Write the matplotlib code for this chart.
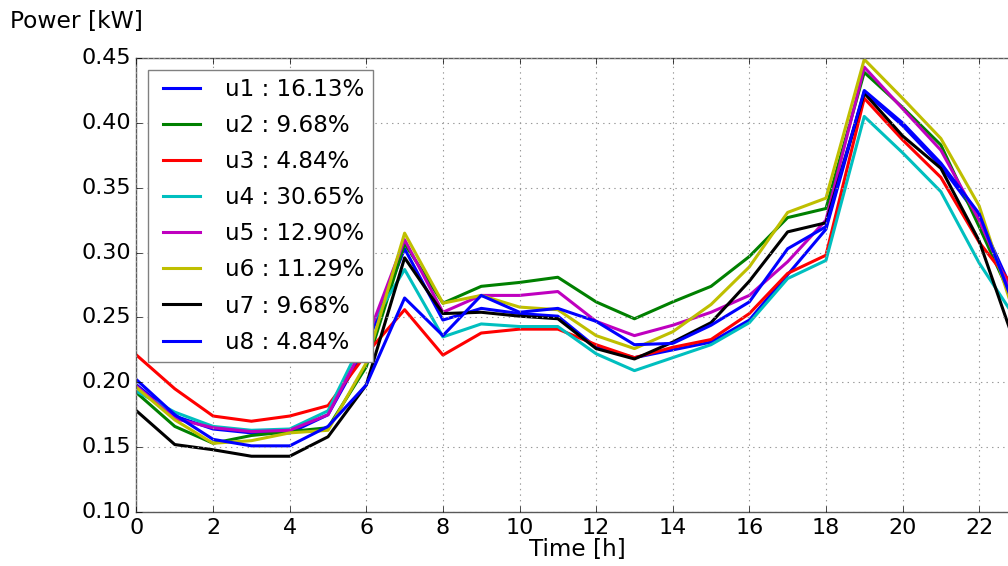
import numpy as np
import matplotlib
matplotlib.use('Agg')
import matplotlib.pyplot as plt

plt.style.use('classic')

# hourly mean power per cluster
hours = np.arange(24)
u1 = [0.198, 0.174, 0.164, 0.161, 0.161, 0.175, 0.228, 0.303, 0.248, 0.257, 0.253, 0.251,
      0.227, 0.219, 0.225, 0.231, 0.248, 0.283, 0.318, 0.424, 0.398, 0.367, 0.327, 0.262]
u2 = [0.192, 0.166, 0.153, 0.159, 0.162, 0.165, 0.212, 0.307, 0.261, 0.274, 0.277, 0.281,
      0.262, 0.249, 0.262, 0.274, 0.297, 0.327, 0.334, 0.439, 0.412, 0.383, 0.320, 0.255]
u3 = [0.221, 0.195, 0.174, 0.170, 0.174, 0.182, 0.222, 0.256, 0.221, 0.238, 0.241, 0.241,
      0.229, 0.219, 0.227, 0.233, 0.253, 0.284, 0.298, 0.419, 0.387, 0.358, 0.308, 0.270]
u4 = [0.193, 0.177, 0.166, 0.163, 0.164, 0.178, 0.238, 0.287, 0.235, 0.245, 0.243, 0.243,
      0.222, 0.209, 0.219, 0.229, 0.246, 0.280, 0.294, 0.405, 0.377, 0.347, 0.292, 0.247]
u5 = [0.197, 0.172, 0.165, 0.162, 0.163, 0.175, 0.232, 0.310, 0.254, 0.267, 0.267, 0.270,
      0.247, 0.236, 0.244, 0.254, 0.267, 0.293, 0.325, 0.443, 0.411, 0.379, 0.325, 0.258]
u6 = [0.196, 0.171, 0.153, 0.155, 0.161, 0.163, 0.215, 0.315, 0.261, 0.267, 0.258, 0.256,
      0.236, 0.226, 0.239, 0.260, 0.289, 0.331, 0.342, 0.449, 0.419, 0.388, 0.336, 0.245]
u7 = [0.178, 0.152, 0.148, 0.143, 0.143, 0.158, 0.198, 0.296, 0.253, 0.254, 0.251, 0.249,
      0.226, 0.218, 0.231, 0.246, 0.278, 0.316, 0.323, 0.423, 0.390, 0.365, 0.309, 0.224]
u8 = [0.202, 0.175, 0.156, 0.151, 0.151, 0.166, 0.198, 0.265, 0.236, 0.267, 0.254, 0.257,
      0.247, 0.229, 0.230, 0.244, 0.262, 0.303, 0.320, 0.425, 0.400, 0.369, 0.330, 0.252]

series = [u1, u2, u3, u4, u5, u6, u7, u8]
labels = ['u1 : 16.13%', 'u2 : 9.68%', 'u3 : 4.84%', 'u4 : 30.65%',
          'u5 : 12.90%', 'u6 : 11.29%', 'u7 : 9.68%', 'u8 : 4.84%']

fig = plt.figure(figsize=(10.08, 5.66), dpi=100, facecolor='white')
ax = fig.add_axes([0.1354, 0.0954, 0.874, 0.802])

for s, lab in zip(series, labels):
    ax.plot(hours, s, linewidth=2.2, label=lab)

ax.set_xlim(0, 23)
ax.set_ylim(0.10, 0.45)
ax.set_xticks(np.arange(0, 24, 2))
ax.set_yticks(np.arange(0.10, 0.451, 0.05))
ax.set_yticklabels(['%.2f' % v for v in np.arange(0.10, 0.451, 0.05)])
ax.tick_params(labelsize=16)
ax.grid(True, color='0.6', linestyle=':', linewidth=0.8)
for sp in ax.spines.values():
    sp.set_color('0.35')

fig.text(0.5724, 0.030, 'Time [h]', fontsize=16.7, ha='center', va='center')
fig.text(0.01, 0.962, 'Power [kW]', fontsize=16.8, ha='left', va='center')

leg = ax.legend(loc='upper left', fontsize=16.6, handlelength=2.2, handletextpad=0.8,
                labelspacing=0.57, borderpad=0.35, numpoints=2)
leg.get_frame().set_edgecolor('0.5')

fig.savefig('out.png', dpi=100, facecolor='white')
